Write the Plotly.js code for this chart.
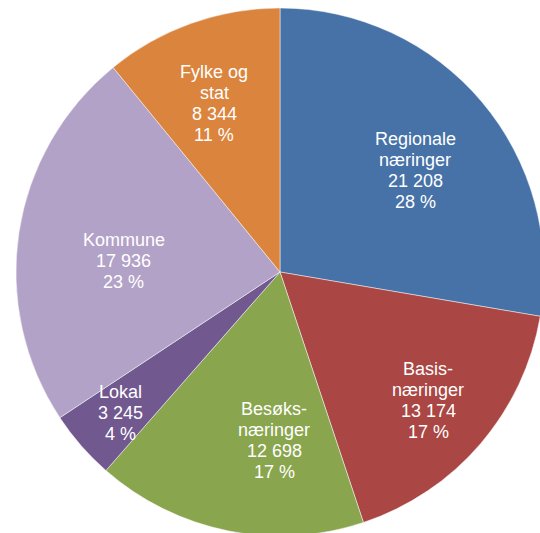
<!DOCTYPE html>
<html><head><meta charset="utf-8">
<script src="https://cdn.plot.ly/plotly-3.0.1.min.js"></script>
<style>html,body{margin:0;padding:0;overflow:hidden;background:#fff;width:540px;height:533px}</style>
</head><body>
<div id="chart" style="width:560px;height:540px"></div>
<script>
const labels = ["Regionale<br>næringer", "Basis-<br>næringer", "Besøks-<br>næringer", "Lokal", "Kommune", "Fylke og<br>stat"];
const values = [21208, 13174, 12698, 3245, 17936, 8344];
const colors = ["#4672A7", "#AA4643", "#89A54E", "#71588F", "#B3A2C7", "#DB843D"];

// label block centres in page pixels (layout only)
const labelX = [415, 428, 274, 120, 123.5, 214];
const labelY = [170.5, 400, 440, 413, 261, 103.5];

const W = 560, H = 540, LINE = 21;
const total = values.reduce((a, b) => a + b, 0);
const fmt = v => String(v).replace(/\B(?=(\d{3})+(?!\d))/g, " ");

const annotations = [];
values.forEach((v, i) => {
  const lines = labels[i].split("<br>").concat([fmt(v), Math.round(v / total * 100) + " %"]);
  const n = lines.length;
  lines.forEach((t, j) => {
    annotations.push({
      xref: "paper", yref: "paper",
      x: labelX[i] / W, y: 1 - labelY[i] / H,
      xanchor: "center", yanchor: "middle",
      yshift: -(j - (n - 1) / 2) * LINE,
      text: t, showarrow: false,
      font: {family: "Liberation Sans, Arial, sans-serif", size: 18, color: "#ffffff"}
    });
  });
});

Plotly.newPlot("chart", [{
  type: "pie",
  labels: labels,
  values: values,
  textinfo: "none",
  hoverinfo: "none",
  sort: false,
  direction: "clockwise",
  rotation: 0,
  marker: {colors: colors, line: {color: "rgba(255,255,255,0.6)", width: 0.8}},
  domain: {x: [15/W, 545/W], y: [4/H, 532/H]}
}], {
  width: W, height: H,
  margin: {l: 0, r: 0, t: 0, b: 0},
  showlegend: false,
  paper_bgcolor: "#ffffff",
  annotations: annotations
}, {staticPlot: true});
</script>
</body></html>
